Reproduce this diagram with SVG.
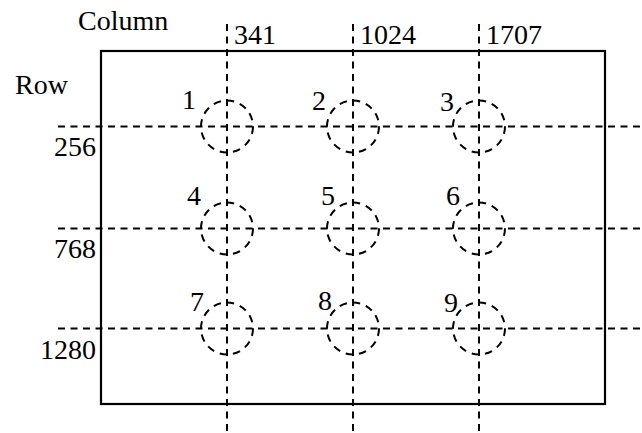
<svg xmlns="http://www.w3.org/2000/svg" width="642" height="433" viewBox="0 0 642 433">
<style>
.t{font-family:"Liberation Serif","Times New Roman",serif;font-size:28px;fill:#000}
.d{stroke:#000;stroke-width:2;stroke-dasharray:7 5.5;fill:none}
.c{stroke:#000;stroke-width:2;stroke-dasharray:7.5 6;fill:none}
</style>
<rect x="0" y="0" width="642" height="433" fill="#fff"/>
<g id="frame"><rect x="101" y="51" width="504" height="353" fill="none" stroke="#000" stroke-width="2.2"/></g>
<g id="connectors">
<line class="d" x1="227" y1="24" x2="227" y2="433"/>
<line class="d" x1="353" y1="24" x2="353" y2="433"/>
<line class="d" x1="479" y1="24" x2="479" y2="433"/>
<line class="d" x1="58" y1="126.5" x2="642" y2="126.5"/>
<line class="d" x1="58" y1="228.5" x2="642" y2="228.5"/>
<line class="d" x1="58" y1="328.5" x2="642" y2="328.5"/>
</g>
<g id="axis-labels">
<text class="t" x="78" y="30">Column</text>
<text class="t" x="15" y="94">Row</text>
<text class="t" x="234" y="44">341</text>
<text class="t" x="360" y="44">1024</text>
<text class="t" x="486" y="44">1707</text>
<text class="t" x="96" y="156" text-anchor="end">256</text>
<text class="t" x="96" y="258" text-anchor="end">768</text>
<text class="t" x="96" y="359" text-anchor="end">1280</text>
</g>
<g id="n1"><circle class="c" cx="227" cy="126.5" r="26"/><text class="t" x="182" y="109">1</text></g>
<g id="n2"><circle class="c" cx="353" cy="126.5" r="26"/><text class="t" x="312" y="110">2</text></g>
<g id="n3"><circle class="c" cx="479" cy="126.5" r="26"/><text class="t" x="440" y="111">3</text></g>
<g id="n4"><circle class="c" cx="227" cy="228.5" r="26"/><text class="t" x="187" y="205">4</text></g>
<g id="n5"><circle class="c" cx="353" cy="228.5" r="26"/><text class="t" x="321" y="205">5</text></g>
<g id="n6"><circle class="c" cx="479" cy="228.5" r="26"/><text class="t" x="446" y="205">6</text></g>
<g id="n7"><circle class="c" cx="227" cy="328.5" r="26"/><text class="t" x="190" y="311">7</text></g>
<g id="n8"><circle class="c" cx="353" cy="328.5" r="26"/><text class="t" x="318" y="310">8</text></g>
<g id="n9"><circle class="c" cx="479" cy="328.5" r="26"/><text class="t" x="444" y="312">9</text></g>
</svg>
